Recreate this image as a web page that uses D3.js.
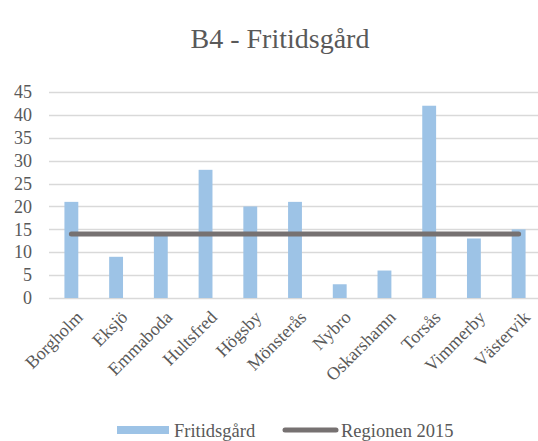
<!DOCTYPE html>
<html>
<head>
<meta charset="utf-8">
<script src="https://cdn.jsdelivr.net/npm/d3@7"></script>
<style>
  body { margin: 0; background: #fff; }
</style>
</head>
<body>
<div id="chart"></div>
<script>
(function() {
  var width = 538, height = 441;
  var margin = { top: 92, left: 49, right: -3, bottom: 143 };
  var serif = "Liberation Serif";

  var kommuner = ['Borgholm','Eksjö','Emmaboda','Hultsfred','Högsby','Mönsterås','Nybro','Oskarshamn','Torsås','Vimmerby','Västervik'];
  var fritidsgard = [21, 9, 14, 28, 20, 21, 3, 6, 42, 13, 15];
  var regionen2015 = [14, 14, 14, 14, 14, 14, 14, 14, 14, 14, 14];
  var yTicks = [0, 5, 10, 15, 20, 25, 30, 35, 40, 45];

  var svg = d3.select("#chart")
    .append("svg")
    .attr("width", width)
    .attr("height", height)
    .attr("font-family", serif);

  var xScale = d3.scaleBand().domain(kommuner).range([margin.left, width - margin.right]).paddingInner(0.69).paddingOuter(0.345);
  var yScale = d3.scaleLinear().domain([0, 45]).range([height - margin.bottom, margin.top]);

  // title
  svg.append("text")
    .attr("x", 280)
    .attr("y", 48)
    .attr("text-anchor", "middle")
    .attr("font-family", serif)
    .attr("font-size", 28)
    .attr("fill", "#595959")
    .text("B4 - Fritidsgård");

  // gridlines
  svg.append("g")
    .selectAll("line")
    .data(yTicks)
    .enter().append("line")
    .attr("x1", margin.left)
    .attr("x2", width)
    .attr("y1", function(d) { return Math.round(yScale(d)) + 0.5; })
    .attr("y2", function(d) { return Math.round(yScale(d)) + 0.5; })
    .attr("stroke", "#d9d9d9")
    .attr("stroke-width", 1.3);

  // y labels
  var yAxis = d3.axisLeft(yScale).tickValues(yTicks).tickSize(0).tickPadding(0);
  var yg = svg.append("g")
    .attr("transform", "translate(32,0)")
    .call(yAxis)
    .attr("font-family", serif)
    .attr("font-size", 18);
  yg.select(".domain").remove();
  yg.selectAll("text")
    .attr("fill", "#595959");

  // bars
  var data = kommuner.map(function(k, i) { return { kommun: k, value: fritidsgard[i], region: regionen2015[i] }; });

  svg.selectAll("rect.bar")
    .data(data)
    .enter().append("rect")
    .attr("class", "bar")
    .attr("x", function(d) { return xScale(d.kommun); })
    .attr("width", xScale.bandwidth())
    .attr("y", function(d) { return yScale(d.value); })
    .attr("height", function(d) { return yScale(0) - yScale(d.value); })
    .attr("fill", "#9dc3e6");

  // Regionen line
  var line = d3.line()
    .x(function(d) { return xScale(d.kommun) + xScale.bandwidth() / 2; })
    .y(function(d) { return yScale(d.region); });

  svg.append("path")
    .datum(data)
    .attr("d", line)
    .attr("fill", "none")
    .attr("stroke", "#767171")
    .attr("stroke-width", 5)
    .attr("stroke-linecap", "round");

  // category labels
  svg.append("g")
    .selectAll("text")
    .data(kommuner)
    .enter().append("text")
    .attr("text-anchor", "end")
    .attr("transform", function(d) {
      return "translate(" + (xScale(d) + xScale.bandwidth() / 2 + 8) + "," + 314 + ") rotate(-45)";
    })
    .attr("dy", "0.35em")
    .attr("font-family", serif)
    .attr("font-size", 18)
    .attr("fill", "#595959")
    .text(function(d) { return d; });

  // legend
  var legend = svg.append("g");
  legend.append("rect")
    .attr("x", 117).attr("y", 426)
    .attr("width", 52).attr("height", 8)
    .attr("fill", "#9dc3e6");
  legend.append("text")
    .attr("x", 174).attr("y", 437)
    .attr("font-family", serif)
    .attr("font-size", 18.5)
    .attr("fill", "#595959")
    .text("Fritidsgård");
  legend.append("line")
    .attr("x1", 285).attr("x2", 336)
    .attr("y1", 430).attr("y2", 430)
    .attr("stroke", "#767171")
    .attr("stroke-width", 5)
    .attr("stroke-linecap", "round");
  legend.append("text")
    .attr("x", 341).attr("y", 437)
    .attr("font-family", serif)
    .attr("font-size", 18.5)
    .attr("fill", "#595959")
    .text("Regionen 2015");
})();
</script>
</body>
</html>
